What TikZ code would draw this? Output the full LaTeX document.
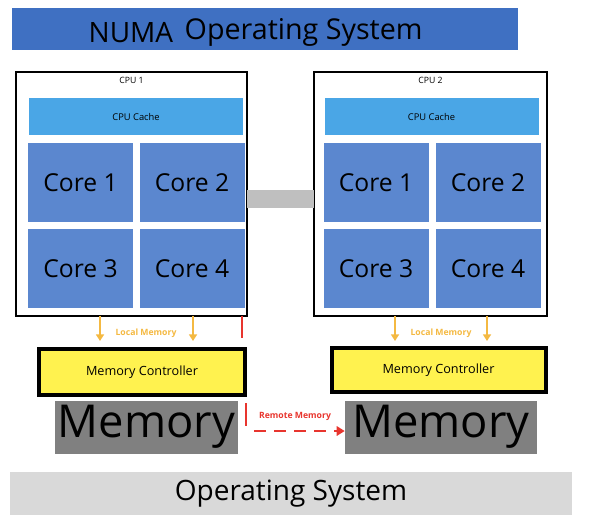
\documentclass[tikz,border=0pt]{standalone}
\usepackage{fontspec}
\setmainfont{Open Sans}
\usetikzlibrary{arrows.meta}
\definecolor{titleblue}{HTML}{3F70C2}
\definecolor{cachec}{HTML}{4AA6E6}
\definecolor{corec}{HTML}{5B87CF}
\definecolor{orng}{HTML}{F4B942}
\definecolor{ylw}{HTML}{FFF24F}
\definecolor{memg}{HTML}{808080}
\definecolor{osg}{HTML}{D9D9D9}
\definecolor{linkg}{HTML}{BFBFBF}
\definecolor{redc}{HTML}{E8352E}
\begin{document}
\begin{tikzpicture}[x=0.75pt,y=-0.75pt,
  box/.style={draw=black,line width=0.8pt,fill=white,inner sep=0},
  cache/.style={fill=cachec,minimum width=160.5pt,minimum height=27.75pt,inner sep=0,font=\fontsize{7}{8}\selectfont},
  core/.style={fill=corec,minimum width=78.75pt,minimum height=59.25pt,inner sep=0,font=\fontsize{18.5}{20}\selectfont},
  mc/.style={draw=black,line width=3pt,fill=ylw,inner sep=0,font=\fontsize{9.5}{11}\selectfont},
  mem/.style={fill=memg,inner sep=0,minimum height=39.75pt,font=\fontsize{34}{36}\selectfont},
  loc/.style={-{Triangle[width=6pt,length=5pt]},orng,line width=2pt},
  lbl/.style={font=\bfseries\fontsize{6.5}{7}\selectfont}]
\useasboundingbox (0,0) rectangle (602,522);
% title
\node[fill=titleblue,minimum width=379.5pt,minimum height=31.5pt,inner sep=0] (title) at (265,29) {};
\node[font=\fontsize{21}{24}\selectfont,anchor=base west] (numa) at (84,42) {NUMA};
\node[font=\fontsize{21.5}{24}\selectfont,anchor=base west] (os1) at (180,39) {Operating System};
% CPU boxes
\node[box,minimum width=173.25pt,minimum height=183pt] (cpu1) at (131.5,194) {};
\node[box,minimum width=174.75pt,minimum height=183pt] (cpu2) at (430.5,194) {};
\node[font=\fontsize{6.5}{7}\selectfont] (l1) at (131.5,80) {CPU 1};
\node[font=\fontsize{6.5}{7}\selectfont] (l2) at (430.5,80) {CPU 2};
\node[cache] (cache1) at (136,116.5) {CPU Cache};
\node[cache] (cache2) at (431.5,116.5) {CPU Cache};
\node[core] (c11) at (80.5,182.5) {Core 1};
\node[core] (c12) at (192,182.5) {Core 2};
\node[core] (c13) at (80.5,268.5) {Core 3};
\node[core] (c14) at (192,268.5) {Core 4};
\node[core] (c21) at (376,182.5) {Core 1};
\node[core] (c22) at (488,182.5) {Core 2};
\node[core] (c23) at (376,268.5) {Core 3};
\node[core] (c24) at (488,268.5) {Core 4};
% interconnect
\node[fill=linkg,minimum width=50.25pt,minimum height=13.5pt,inner sep=0] (link) at (280.5,199) {};
% memory controllers
\node[mc,minimum width=154.5pt,minimum height=34.5pt] (mc1) at (142,372) {Memory Controller};
\node[mc,minimum width=160.5pt,minimum height=33pt] (mc2) at (438.5,370) {Memory Controller};
% local arrows
\coordinate (a1) at (100,316); \coordinate (b1) at (100,341);
\coordinate (a2) at (193,316); \coordinate (b2) at (193,341);
\coordinate (a3) at (395,316); \coordinate (b3) at (395,341);
\coordinate (a4) at (487,316); \coordinate (b4) at (487,341);
\draw[loc] (a1) -- (b1); \draw[loc] (a2) -- (b2);
\draw[loc] (a3) -- (b3); \draw[loc] (a4) -- (b4);
\node[lbl,text=orng] (lm1) at (146,333) {Local Memory};
\node[lbl,text=orng] (lm2) at (441,333) {Local Memory};
\coordinate (r1) at (242,316); \coordinate (r2) at (242,338);
\draw[redc,line width=1.5pt] (r1) -- (r2);
% memories
\node[mem,minimum width=137pt] (mem1) at (146.5,427) {Memory};
\node[mem,minimum width=144pt] (mem2) at (441,427) {Memory};
% remote
\coordinate (r3) at (246,403); \coordinate (r4) at (246,426);
\draw[redc,line width=1.2pt] (r3) -- (r4);
\coordinate (r5) at (254,431);
\draw[redc,line width=1.5pt,dash pattern=on 9pt off 6pt,-{Triangle[width=7pt,length=6pt]}] (r5) -- (mem2.west |- r5);
\node[lbl,text=redc] (rm) at (295,416) {Remote Memory};
% OS bar
\node[fill=osg,minimum width=421.5pt,minimum height=32.25pt,inner sep=0,font=\fontsize{21}{24}\selectfont] (os) at (291,493.5) {Operating System};
\end{tikzpicture}
\end{document}
